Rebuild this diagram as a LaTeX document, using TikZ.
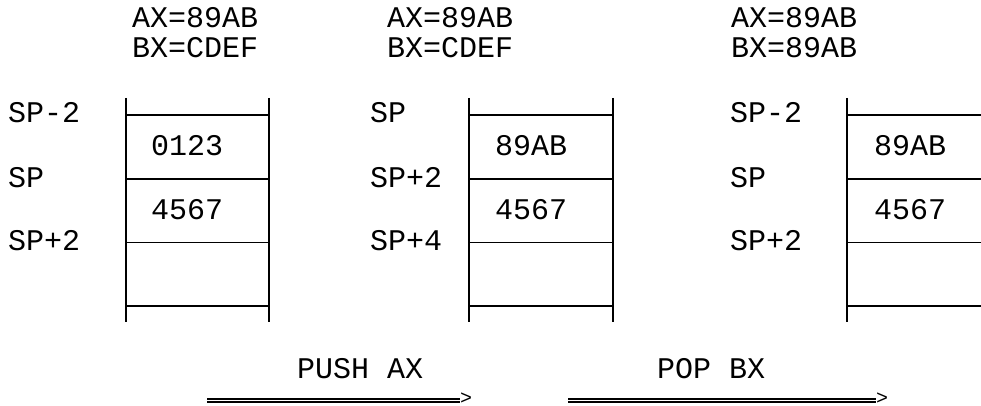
\documentclass[tikz,border=0pt]{standalone}
\usepackage{fontspec}
\setmonofont{Liberation Mono}
\begin{document}
\begin{tikzpicture}[x=1pt,y=-1pt,
  txt/.style={font=\ttfamily\fontsize{30}{32}\selectfont, inner sep=0pt, anchor=base west},
  tip/.style={font=\ttfamily\fontsize{20}{22}\selectfont, inner sep=0pt, anchor=west},
  rule/.style={line width=1.7pt, line cap=butt},
  dbl/.style={double, line width=1.5pt, double distance=1.8pt, line cap=butt}]
\useasboundingbox (0,0) rectangle (981,406);

% ---------- top register labels ----------
\node[txt] (ax1) at (132,28) {AX=89AB};
\node[txt] (bx1) at (132,58) {BX=CDEF};
\node[txt] (ax2) at (387,28) {AX=89AB};
\node[txt] (bx2) at (387,58) {BX=CDEF};
\node[txt] (ax3) at (731,28) {AX=89AB};
\node[txt] (bx3) at (731,58) {BX=89AB};

% ---------- stack 1 ----------
\draw[rule] (125.7,98) -- (125.7,322);
\draw[rule] (269,98) -- (269,322);
\foreach \y in {115,179,242.5,306} \draw[rule] (125.7,\y) -- (269,\y);
\node[txt] (a1) at (8,123) {SP-2};
\node[txt] (a2) at (8,187) {SP};
\node[txt] (a3) at (8,250) {SP+2};
\node[txt] (v11) at (151,155.5) {0123};
\node[txt] (v12) at (151,219) {4567};

% ---------- stack 2 ----------
\draw[rule] (469,98) -- (469,322);
\draw[rule] (613,98) -- (613,322);
\foreach \y in {115,179,242.5,306} \draw[rule] (469,\y) -- (613,\y);
\node[txt] (b1) at (370,123) {SP};
\node[txt] (b2) at (370,187) {SP+2};
\node[txt] (b3) at (370,250.5) {SP+4};
\node[txt] (v21) at (495,155.5) {89AB};
\node[txt] (v22) at (495,219) {4567};

% ---------- stack 3 ----------
\draw[rule] (847,98) -- (847,322);
\foreach \y in {115,179,242.5,306} \draw[rule] (847,\y) -- (990,\y);
\node[txt] (c1) at (730,123) {SP-2};
\node[txt] (c2) at (730,187) {SP};
\node[txt] (c3) at (730,250) {SP+2};
\node[txt] (v31) at (874,155.5) {89AB};
\node[txt] (v32) at (874,219) {4567};

% ---------- operations ----------
\node[txt] (push) at (297,378) {PUSH AX};
\node[txt] (pop) at (657,378) {POP BX};
\coordinate (p1s) at (207,400.5);
\node[tip] (p1e) at (460,398.5) {>};
\draw[dbl] (p1s) -- (p1e.west |- p1s);
\coordinate (p2s) at (568,400.5);
\node[tip] (p2e) at (876,398.5) {>};
\draw[dbl] (p2s) -- (p2e.west |- p2s);
\end{tikzpicture}
\end{document}
